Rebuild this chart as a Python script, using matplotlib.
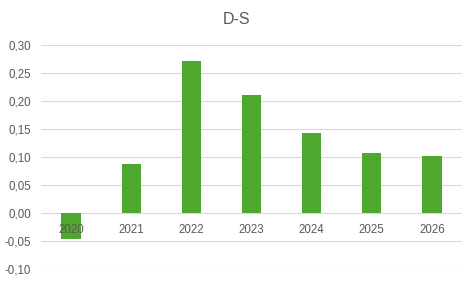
import matplotlib
matplotlib.use("Agg")
import matplotlib.pyplot as plt
from matplotlib.ticker import FuncFormatter

years = ["2020", "2021", "2022", "2023", "2024", "2025", "2026"]
values = [-0.046, 0.088, 0.272, 0.211, 0.142, 0.108, 0.101]

plt.rcParams['font.family'] = ['Liberation Sans', 'DejaVu Sans']
grey = '#595959'

fig = plt.figure(figsize=(4.72, 2.82), dpi=100)
ax = fig.add_axes([0.0869, 0.0461, 0.8919, 0.7943])

x = range(len(years))
ax.bar(x, values, width=0.32, color='#4EA72E', zorder=2)

ax.set_xlim(-0.5, len(years) - 0.5)
ax.set_ylim(-0.10, 0.30)
ax.set_yticks([-0.10, -0.05, 0.0, 0.05, 0.10, 0.15, 0.20, 0.25, 0.30])
ax.yaxis.set_major_formatter(FuncFormatter(lambda v, p: f"{v:.2f}".replace('.', ',')))
ax.grid(axis='y', color='#d9d9d9', linewidth=0.8, zorder=0)

# year labels sit right below the zero line, drawn over the bars
ax.set_xticks(list(x))
ax.set_xticklabels(years)
ax.spines['bottom'].set_position(('data', 0))
for s in ax.spines.values():
    s.set_visible(False)
ax.tick_params(axis='both', length=0, colors=grey, labelsize=8.3)
ax.tick_params(axis='y', pad=7)
ax.tick_params(axis='x', pad=8)
ax.xaxis.set_zorder(3)

fig.text(0.502, 0.932, "D-S", ha='center', va='center', fontsize=11.5, color=grey)

fig.savefig("out.png", dpi=100)
